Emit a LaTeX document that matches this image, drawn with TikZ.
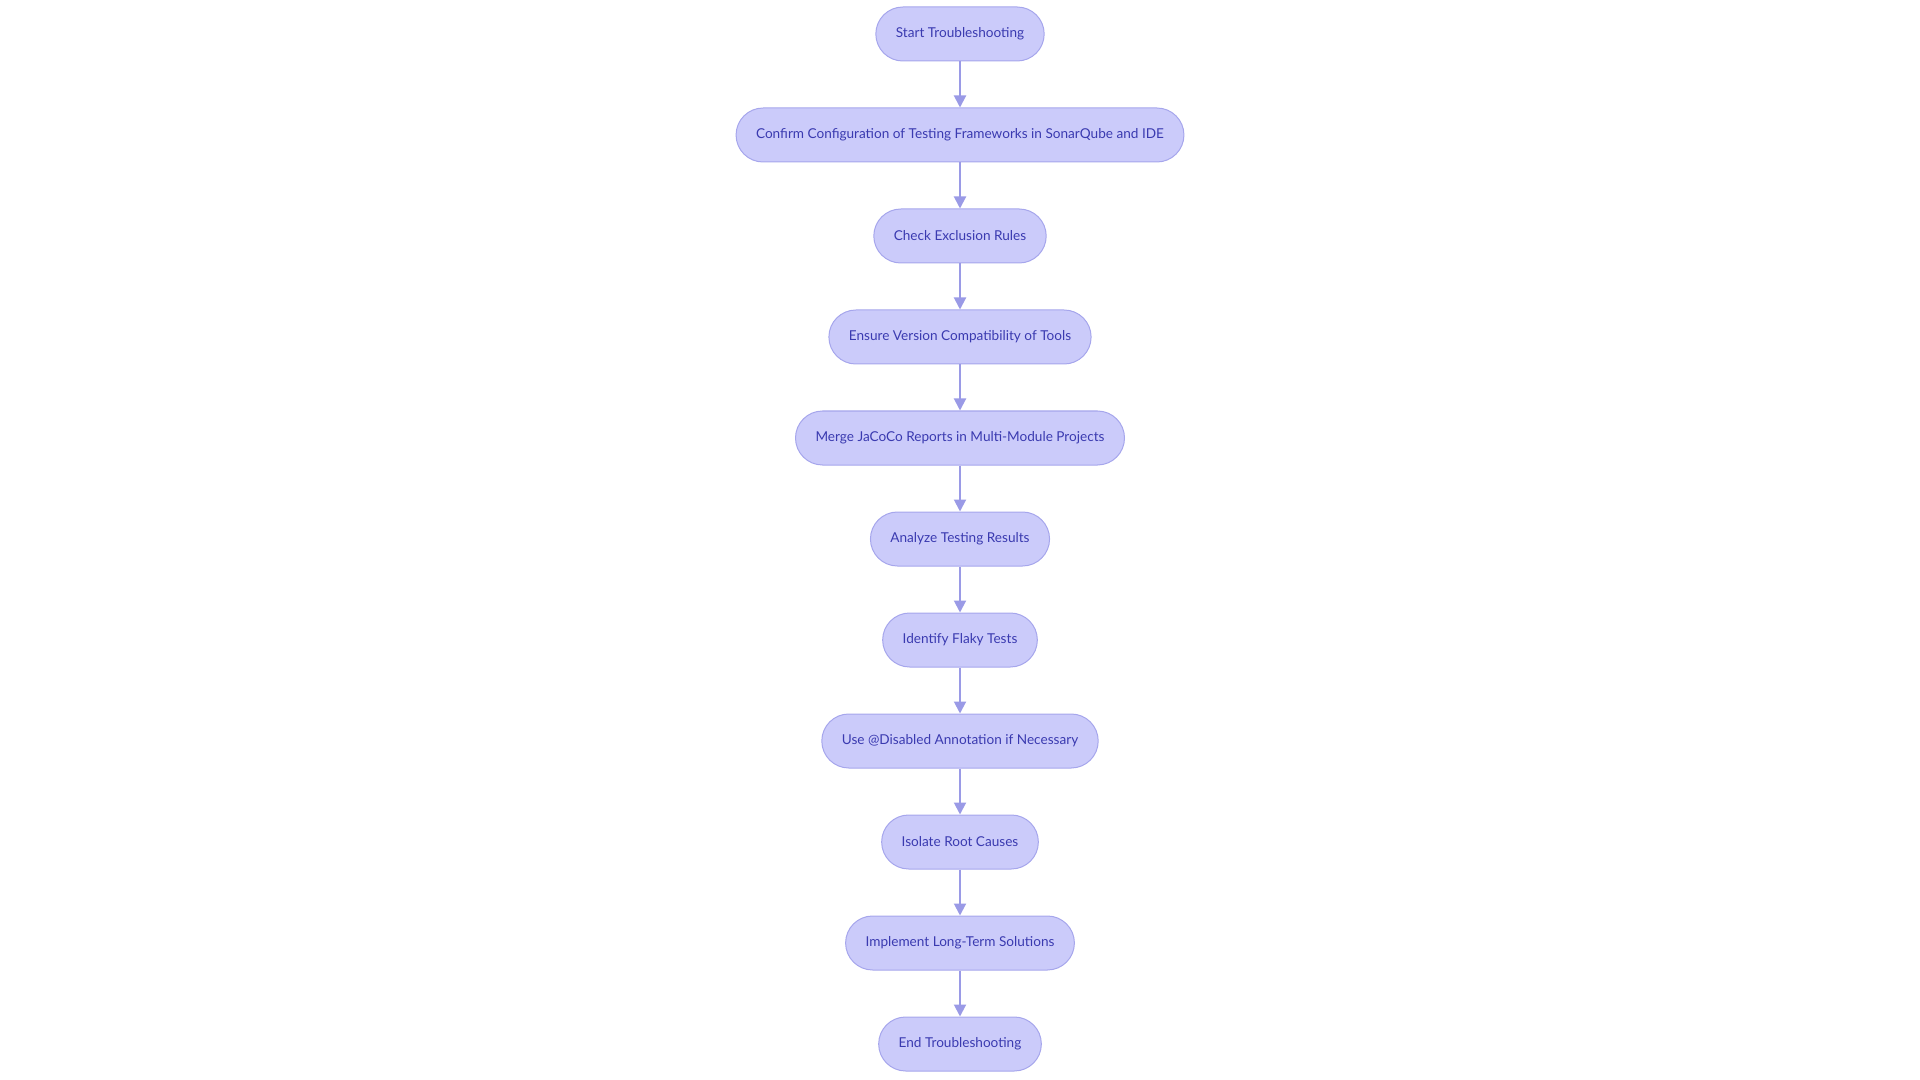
\documentclass[tikz,border=0pt]{standalone}
\usepackage{fontspec}
\setmainfont{Lato}
\usetikzlibrary{positioning,arrows.meta}
\definecolor{stepfill}{HTML}{CBCBFA}
\definecolor{stepline}{HTML}{A6A6EC}
\definecolor{steptext}{HTML}{3A3AB0}
\definecolor{flowline}{HTML}{9A9AE6}
\tikzset{
	stepbox/.style={draw=stepline, fill=stepfill, text=steptext, line width=0.75pt,
		rounded corners=20.25pt, minimum height=40.5pt, inner xsep=15pt,
		font=\fontsize{10.2pt}{12pt}\selectfont},
	flow/.style={draw=flowline, line width=1.5pt, -{Triangle[length=9pt,width=9pt]}}
}
\begin{document}
\begin{tikzpicture}[node distance=34.5pt]
	\useasboundingbox (0,0) rectangle (1440pt,-810pt);
	\node[stepbox] (start) at (720pt,-25.5pt) {Start Troubleshooting};
	\node[stepbox, below=of start] (config) {Confirm Configuration of Testing Frameworks in SonarQube and IDE};
	\node[stepbox, below=of config] (exclude) {Check Exclusion Rules};
	\node[stepbox, below=of exclude] (version) {Ensure Version Compatibility of Tools};
	\node[stepbox, below=of version] (merge) {Merge JaCoCo Reports in Multi-Module Projects};
	\node[stepbox, below=of merge] (analyze) {Analyze Testing Results};
	\node[stepbox, below=of analyze] (flaky) {Identify Flaky Tests};
	\node[stepbox, below=of flaky] (disable) {Use @Disabled Annotation if Necessary};
	\node[stepbox, below=of disable] (isolate) {Isolate Root Causes};
	\node[stepbox, below=of isolate] (implement) {Implement Long-Term Solutions};
	\node[stepbox, below=of implement] (finish) {End Troubleshooting};
	% connectors
	\draw[flow] (start) -- (config);
	\draw[flow] (config) -- (exclude);
	\draw[flow] (exclude) -- (version);
	\draw[flow] (version) -- (merge);
	\draw[flow] (merge) -- (analyze);
	\draw[flow] (analyze) -- (flaky);
	\draw[flow] (flaky) -- (disable);
	\draw[flow] (disable) -- (isolate);
	\draw[flow] (isolate) -- (implement);
	\draw[flow] (implement) -- (finish);
\end{tikzpicture}
\end{document}
